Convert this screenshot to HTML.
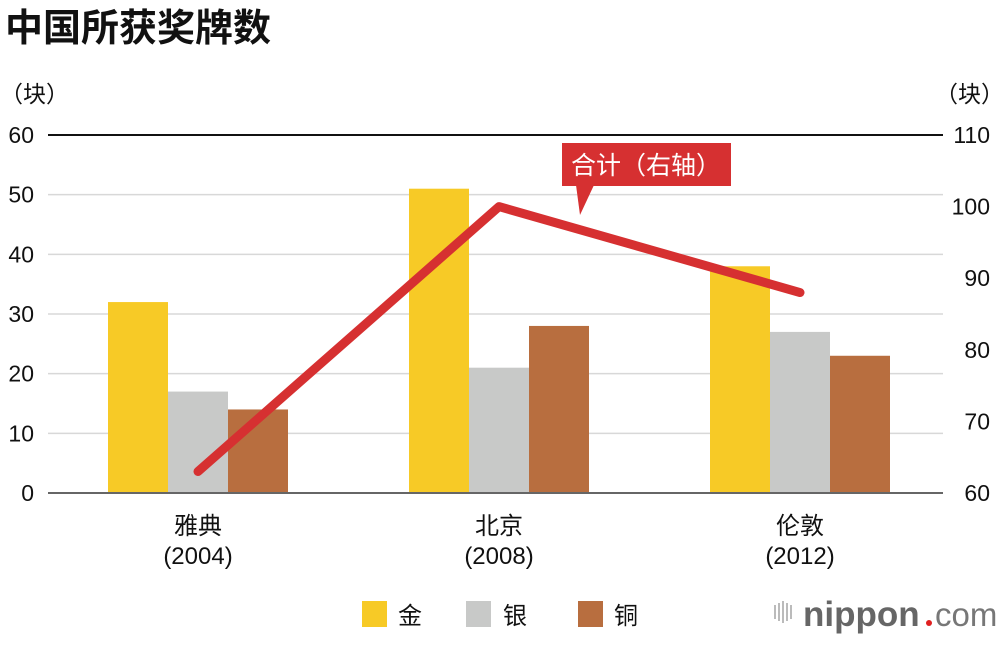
<!DOCTYPE html>
<html><head><meta charset="utf-8"><style>
body{margin:0;background:#fff;width:1000px;height:640px;overflow:hidden}
svg text{font-family:"Liberation Sans","Noto Sans CJK SC",sans-serif}
</style></head><body>
<svg width="1000" height="640" id="c">
<text x="5" y="41" font-size="38" font-weight="bold" fill="#111">中国所获奖牌数</text>
<text x="0" y="102" font-size="23" fill="#111">（块）</text>
<text x="1004" y="102" font-size="23" fill="#111" text-anchor="end">（块）</text>
<g id="grid"></g><g id="bars"></g><g id="axes"></g><g id="line"></g>
<g>
<rect x="562" y="143" width="169" height="43" fill="#d63031"/>
<polygon points="576,185 580,215 594,185" fill="#d63031"/>
<text x="646" y="174" font-size="25" fill="#fff" text-anchor="middle">合计（右轴）</text>
</g>
<g>
<rect x="362" y="601" width="25" height="26" fill="#f7ca26"/>
<text x="398" y="624" font-size="24" fill="#111">金</text>
<rect x="466" y="601" width="25" height="26" fill="#c8c9c8"/>
<text x="503" y="624" font-size="24" fill="#111">银</text>
<rect x="578" y="601" width="25" height="26" fill="#b86e3f"/>
<text x="614" y="624" font-size="24" fill="#111">铜</text>
</g>
<g>
<g fill="#bbb"><rect x="774" y="605" width="2" height="14"/><rect x="778" y="603" width="2" height="18"/><rect x="782" y="601" width="2" height="22"/><rect x="786" y="603" width="2" height="18"/><rect x="790" y="605" width="2" height="14"/></g>
<text x="803" y="626" font-size="35" font-weight="bold" fill="#666">nippon</text>
<circle cx="929" cy="623" r="3" fill="#e02020"/>
<text x="935" y="626" font-size="33" fill="#777">com</text>
</g>
</svg>
<script>
const categories=["雅典","北京","伦敦"];
const years=["(2004)","(2008)","(2012)"];
const gold=[32,51,38];
const silver=[17,21,27];
const bronze=[14,28,23];
const totals=[63,100,88];
const leftTicks=[0,10,20,30,40,50,60];
const rightTicks=[60,70,80,90,100,110];
const NS="http://www.w3.org/2000/svg";
const y0=493,yTop=135;
const yL=v=>y0-(v/60)*(y0-yTop);
const yR=v=>y0-((v-60)/50)*(y0-yTop);
const cx=i=>198+i*301;
function mk(t,a,p){const e=document.createElementNS(NS,t);for(const k in a)e.setAttribute(k,a[k]);p.appendChild(e);return e;}
const gridG=document.getElementById('grid'),axesG=document.getElementById('axes'),barsG=document.getElementById('bars'),lineG=document.getElementById('line');
leftTicks.forEach(v=>{
 if(v>0&&v<60){const g=mk('line',{x1:48,x2:943,y1:yL(v),y2:yL(v),stroke:'#d8d8d8','stroke-width':1.5},gridG);
 
 }
 const t=mk('text',{x:34,y:yL(v)+8,'font-size':23,'text-anchor':'end',fill:'#111'},axesG);t.textContent=v;
 
 
});
rightTicks.forEach(v=>{
 const t=mk('text',{x:990,y:yR(v)+8,'font-size':23,'text-anchor':'end',fill:'#111'},axesG);t.textContent=v;
 
 
});
const topLine=mk('line',{x1:48,x2:943,y1:yTop,y2:yTop,stroke:'#111','stroke-width':2},axesG);


const series=[[gold,'#f7ca26','gold'],[silver,'#c8c9c8','silver'],[bronze,'#b86e3f','bronze']];
categories.forEach((c,i)=>{
 series.forEach(([d,col,n],j)=>{
  const r=mk('rect',{x:cx(i)-90+j*60,y:yL(d[i]),width:60,height:y0-yL(d[i]),fill:col},barsG);
  
  
 });
 const t=mk('text',{x:cx(i),y:534,'font-size':24,'text-anchor':'middle',fill:'#111'},axesG);t.textContent=c;
 
 
 const t2=mk('text',{x:cx(i),y:564,'font-size':24,'text-anchor':'middle',fill:'#111'},axesG);t2.textContent=years[i];
 
 
});
const base=mk('line',{x1:48,x2:943,y1:y0,y2:y0,stroke:'#666','stroke-width':2},axesG);


const pl=mk('polyline',{points:totals.map((v,i)=>cx(i)+','+yR(v)).join(' '),fill:'none',stroke:'#d63031','stroke-width':9,'stroke-linecap':'round','stroke-linejoin':'round'},lineG);


</script>
</body></html>
